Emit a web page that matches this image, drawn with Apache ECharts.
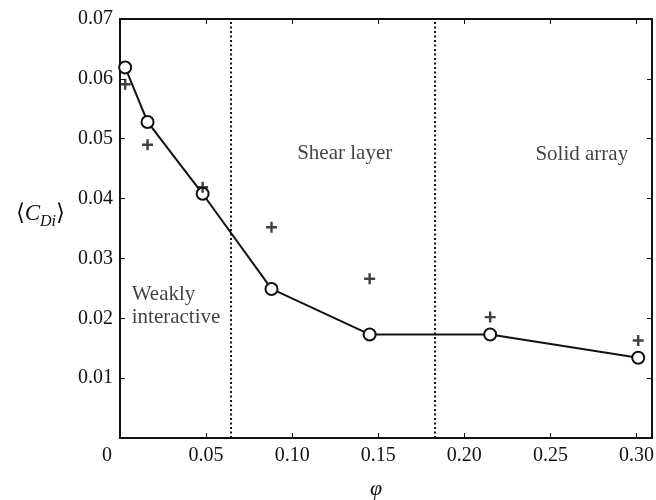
<!DOCTYPE html>
<html>
<head>
<meta charset="utf-8">
<script src="https://cdn.jsdelivr.net/npm/echarts@6/dist/echarts.min.js"></script>
<style>
  html, body { margin: 0; padding: 0; background: #fff; }
  #chart { width: 656px; height: 500px; }
</style>
</head>
<body>
<div id="chart"></div>
<script>
// volume fraction
const phi = [0.003, 0.016, 0.048, 0.088, 0.145, 0.215, 0.301]
// <C_Di> circles (joined by line) and crosses
const cdiCircle = [0.0619, 0.0528, 0.0408, 0.0249, 0.0173, 0.0173, 0.0134]
const cdiCross = [0.0591, 0.0490, 0.0419, 0.0352, 0.0266, 0.0202, 0.0163]
// regime boundaries
const boundaries = [0.0645, 0.183]
// regime labels and where they sit
const regimeNames = ['Weakly\ninteractive', 'Shear layer', 'Solid array']
const regimeX = [0.0068, 0.1029, 0.2413]
const regimeY = [0.0221, 0.0475, 0.0474]

const xTicks = [0, 0.05, 0.10, 0.15, 0.20, 0.25, 0.30]
const yTicks = [0.01, 0.02, 0.03, 0.04, 0.05, 0.06, 0.07]

const font = 'Liberation Serif'
const black = '#111'

const chart = echarts.init(document.getElementById('chart'))

const axisCommon = {
  axisLine: { show: true, onZero: false, lineStyle: { color: black, width: 2 } },
  axisTick: { show: true, inside: true, length: 5, lineStyle: { color: black, width: 1 } },
  splitLine: { show: false }
}

const xFormatter = v => {
  if (Math.abs(v) < 1e-9) return '{z|0}'
  const hit = xTicks.find(t => Math.abs(t - v) < 1e-9)
  return hit === undefined ? '' : hit.toFixed(2)
}

// dotted regime boundaries, full height
const boundarySeries = boundaries.map(b => ({
  type: 'line',
  data: [[b, 0], [b, 0.07]],
  symbol: 'none',
  silent: true,
  lineStyle: { color: black, width: 2, type: [2, 2.5] },
  z: 1
}))

const option = {
  backgroundColor: '#fff',
  animation: false,
  textStyle: { fontFamily: font },
  grid: { left: 120, right: 4, top: 19, bottom: 62, outerBoundsMode: 'none', containLabel: false },
  xAxis: [
    {
      type: 'value',
      min: 0,
      max: 0.309,
      interval: 0.05,
      position: 'bottom',
      ...axisCommon,
      showMaxLabel: false,
      axisLabel: {
        color: black,
        fontFamily: font,
        fontSize: 20,
        margin: 8,
        formatter: xFormatter,
        rich: { z: { fontFamily: font, fontSize: 20, color: black, padding: [0, 26, 0, 0] } }
      },
      name: 'φ',
      nameLocation: 'middle',
      nameGap: 40,
      nameTextStyle: { fontFamily: font, fontStyle: 'italic', fontSize: 22, color: black, padding: [0, 20, 0, 0] }
    },
    {
      type: 'value',
      min: 0,
      max: 0.309,
      interval: 0.05,
      position: 'top',
      ...axisCommon,
      axisLabel: { show: false }
    }
  ],
  yAxis: [
    {
      type: 'value',
      min: 0,
      max: 0.07,
      interval: 0.01,
      position: 'left',
      ...axisCommon,
      axisLabel: {
        color: black,
        fontFamily: font,
        fontSize: 20,
        margin: 7,
        formatter: v => (yTicks.some(t => Math.abs(t - v) < 1e-9) ? v.toFixed(2) : '')
      },
      name: '⟨{c|C}{s|Di}⟩',
      nameLocation: 'middle',
      nameRotate: 0,
      nameGap: 55,
      nameTextStyle: {
        fontFamily: font,
        fontSize: 23,
        color: black,
        padding: [0, 0, 30, 0],
        rich: {
          c: { fontFamily: font, fontStyle: 'italic', fontSize: 23, color: black, lineHeight: 32 },
          s: { fontFamily: font, fontStyle: 'italic', fontSize: 16, color: black, verticalAlign: 'bottom', lineHeight: 32 }
        }
      }
    },
    {
      type: 'value',
      min: 0,
      max: 0.07,
      interval: 0.01,
      position: 'right',
      ...axisCommon,
      axisLabel: { show: false }
    }
  ],
  series: [
    ...boundarySeries,
    {
      name: 'line',
      type: 'line',
      data: phi.map((p, i) => [p, cdiCircle[i]]),
      symbol: 'emptyCircle',
      symbolSize: 12,
      showAllSymbol: true,
      lineStyle: { color: black, width: 2 },
      itemStyle: { color: black, borderColor: black, borderWidth: 2 },
      z: 3
    },
    {
      name: 'cross',
      type: 'scatter',
      data: phi.map((p, i) => [p, cdiCross[i]]),
      symbol: 'path://M3.9,0h2.2v10h-2.2z M0,3.9h10v2.2h-10z',
      symbolSize: 11,
      itemStyle: { color: black },
      z: 4
    },
    {
      name: 'regimes',
      type: 'scatter',
      data: regimeNames.map((n, i) => ({ value: [regimeX[i], regimeY[i]], name: n })),
      symbolSize: 0,
      silent: true,
      label: {
        show: true,
        position: 'right',
        distance: 0,
        align: 'left',
        formatter: p => p.name,
        fontFamily: font,
        fontSize: 21,
        lineHeight: 23,
        color: black
      }
    }
  ]
}

chart.setOption(option)
</script>
</body>
</html>
